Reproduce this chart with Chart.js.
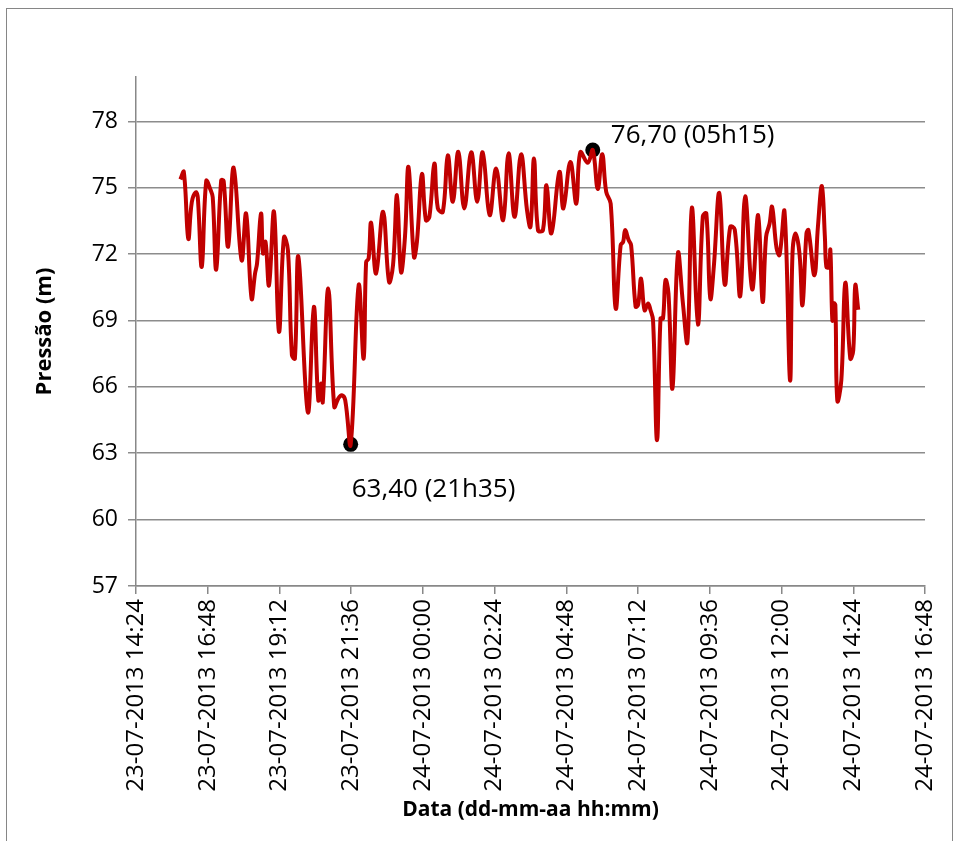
<!DOCTYPE html>
<html>
<head>
<meta charset="utf-8">
<script src="https://cdn.jsdelivr.net/npm/chart.js@4.4.1/dist/chart.umd.min.js"></script>
<style>
html,body{margin:0;padding:0;background:#fff;}
#wrap{position:relative;width:960px;height:841px;overflow:hidden;}
#frame{position:absolute;left:6px;top:8px;width:945px;height:860px;border:1px solid #868686;pointer-events:none;}
</style>
</head>
<body>
<div id="wrap"><canvas id="grafico" width="960" height="841"></canvas><div id="frame"></div></div>
<script>
// leituras de pressão, de 23-07-2013 15:53 até 24-07-2013 14:34 (hora vira à meia-noite)
const times=['15:53','16:00','16:09','16:16','16:24','16:28','16:36','16:45','16:53','16:58','17:05','17:15','17:20','17:29','17:40','17:56','18:05','18:16','18:23','18:27','18:35','18:39','18:44','18:51','19:01','19:11','19:21','19:29','19:37','19:43','19:50','20:09','20:21','20:30','20:36','20:39','20:50','21:02','21:10','21:17','21:24','21:35','21:51','22:01','22:06','22:11','22:16','22:26','22:40','22:52','23:00','23:08','23:16','23:24','23:31','23:42','23:48','23:58',
'00:06','00:13','00:23','00:30','00:40','00:50','01:00','01:11','01:23','01:37','01:49','02:00','02:14','02:27','02:41','02:52','03:04','03:17','03:29','03:36','03:43','03:51','04:01','04:08','04:18','04:34','04:42','04:56','05:08','05:16','05:31','05:41','05:51','06:00','06:08','06:17','06:27','06:37','06:42','06:46','06:53','06:58','07:07','07:12','07:18','07:25','07:32','07:37','07:42','07:50','07:57','08:02','08:07','08:13','08:21','08:32','08:42','08:51','09:00','09:12','09:22','09:29','09:37','09:44','09:55','10:06','10:17','10:26','10:37','10:47','11:01','11:13','11:22','11:29','11:36','11:41','11:50','11:56','12:06','12:17','12:22','12:28','12:36','12:42','12:50','12:54','13:06','13:13','13:21','13:27','13:30','13:35','13:38','13:42','13:45','13:48','13:52','14:00','14:08','14:18','14:24','14:28','14:34'];
const pressure=[75.37,75.71,72.69,74.34,74.79,74.57,71.42,75.30,74.94,74.57,71.30,75.33,75.30,72.33,75.91,71.72,73.83,69.99,71.12,71.57,73.83,72.03,72.55,70.59,73.91,68.49,72.75,72.18,67.43,67.28,71.88,64.85,69.62,65.40,66.15,65.32,70.44,65.10,65.47,65.62,65.40,63.40,70.59,67.28,71.64,71.80,73.41,71.12,73.91,70.74,71.50,74.66,71.19,72.78,75.94,71.87,72.55,75.61,
73.53,73.68,76.09,74.06,73.91,76.46,74.36,76.62,74.06,76.60,74.36,76.60,73.76,75.86,73.53,76.55,73.68,76.50,73.98,73.23,76.31,73.08,73.08,75.11,72.93,75.71,74.06,76.16,74.28,76.60,76.12,76.70,74.94,76.51,74.81,74.28,69.54,72.40,72.55,73.08,72.63,72.40,69.62,69.70,70.89,69.46,69.77,69.46,69.01,63.59,69.09,69.09,70.82,70.22,65.93,72.03,69.77,68.03,74.10,68.81,73.71,73.83,69.99,71.42,74.76,70.62,73.23,73.11,70.10,74.61,70.40,73.76,69.84,72.78,73.38,74.13,72.26,71.96,73.91,66.30,72.03,72.93,72.03,69.69,72.93,73.08,71.04,73.23,75.07,72.78,71.42,71.40,72.18,69.01,69.77,69.70,65.37,66.30,70.70,67.28,67.66,70.59,69.48];

// mínimo e máximo destacados
const markDays=[23,24];
const markTimes=['21:35','05:41'];
const markValues=[63.40,76.70];
const markLabels=['63,40 (21h35)','76,70 (05h15)'];

// eixo x em minutos desde 23-07-2013 00:00
const xMin=14*60+24, xMax=24*60+16*60+48, xStep=144;
const yMin=57, yMax=80, yStep=3;

function hm(s){const p=s.split(':');return (+p[0])*60+(+p[1]);}
function toSeries(){
  let day=0,prev=-1;
  return times.map((t,i)=>{const m=hm(t); if(m<prev) day++; prev=m; return {x:day*1440+m,y:pressure[i]};});
}
const marks=markTimes.map((t,i)=>({x:(markDays[i]-23)*1440+hm(t),y:markValues[i]}));

function pad(n){return String(n).padStart(2,'0');}
function fmtTick(v){
  v=Math.round(v); const d=23+Math.floor(v/1440), m=v%1440;
  return pad(d)+'-07-2013 '+pad(Math.floor(m/60))+':'+pad(m%60);
}

const font='"Open Sans", sans-serif';

const markText={
  id:'markText',
  afterDatasetsDraw(chart){
    const meta=chart.getDatasetMeta(1), ctx=chart.ctx;
    ctx.save();
    ctx.fillStyle='#000'; ctx.font='26px '+font; ctx.textBaseline='middle'; ctx.textAlign='left';
    meta.data.forEach((pt,i)=>{
      if(i===0) ctx.fillText(markLabels[i],pt.x+1,pt.y+45);
      else ctx.fillText(markLabels[i],pt.x+18,pt.y-14);
    });
    ctx.restore();
  }
};

new Chart(document.getElementById('grafico'),{
  type:'line',
  data:{datasets:[
    {data:toSeries(),borderColor:'#C00000',borderWidth:4,pointRadius:0,tension:0.4,fill:false},
    {data:marks,showLine:false,pointRadius:7.5,pointBackgroundColor:'#000',pointBorderColor:'#000',pointBorderWidth:0}
  ]},
  options:{
    responsive:false,animation:false,
    layout:{padding:{left:0,top:77,right:35,bottom:0}},
    plugins:{legend:{display:false},tooltip:{enabled:false}},
    scales:{
      x:{type:'linear',min:xMin,max:xMax,
        afterFit(s){s.height=255;},
        grid:{drawOnChartArea:false,color:'#888',lineWidth:1.5,tickLength:8},
        border:{color:'#888',width:1.5},
        ticks:{stepSize:xStep,minRotation:90,maxRotation:90,padding:5,color:'#000',font:{family:font,size:24},callback:fmtTick},
        title:{display:true,text:'Data (dd-mm-aa hh:mm)',color:'#000',font:{family:font,size:21,weight:'bold'},padding:{top:0,bottom:18}}
      },
      y:{min:yMin,max:yMax,
        afterFit(s){s.width=136;},
        grid:{color:'#8c8c8c',lineWidth:1.5,tickLength:8},
        border:{color:'#888',width:1.5},
        ticks:{stepSize:yStep,includeBounds:false,padding:10,color:'#000',font:{family:font,size:23}},
        title:{display:true,text:'Pressão (m)',color:'#000',font:{family:font,size:22,weight:'bold'},padding:{top:32,bottom:0}}
      }
    }
  },
  plugins:[markText]
});
</script>
</body>
</html>
